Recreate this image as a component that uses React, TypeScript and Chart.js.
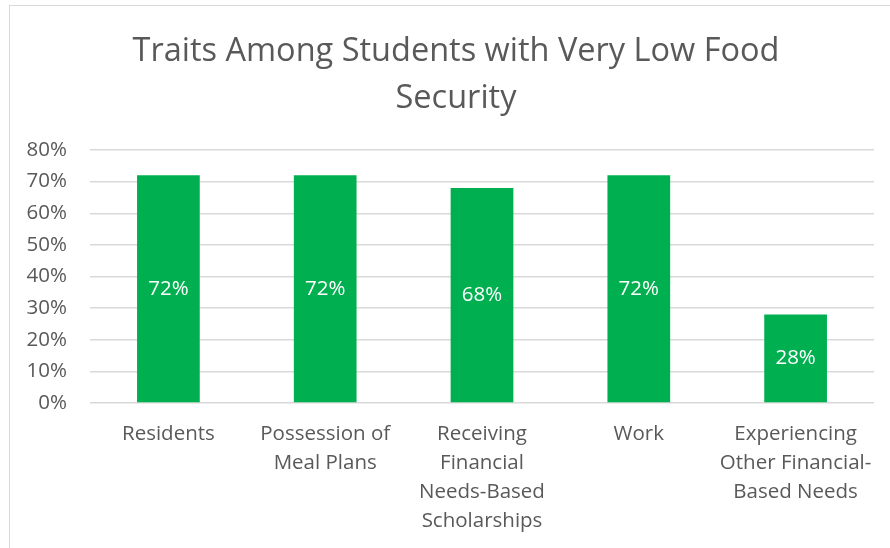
import React, { useEffect, useRef } from "react";
import { Chart, registerables } from "chart.js";

Chart.register(...registerables);

const categories: string[][] = [
  ["Residents"],
  ["Possession of", "Meal Plans"],
  ["Receiving", "Financial", "Needs-Based", "Scholarships"],
  ["Work"],
  ["Experiencing", "Other Financial-", "Based Needs"],
];
const values: number[] = [72, 72, 68, 72, 28];
const titleLines: string[] = ["Traits Among Students with Very Low Food", "Security"];
const yMin = 0;
const yMax = 80;
const yStep = 10;

const FONT = "'Open Sans', sans-serif";
const TEXT = "#595959";

const framePlugin = {
  id: "frame",
  beforeDraw(chart: any) {
    const ctx = chart.ctx;
    ctx.save();
    ctx.fillStyle = "#ffffff";
    ctx.fillRect(0, 0, chart.width, chart.height);
    ctx.strokeStyle = "#d9d9d9";
    ctx.lineWidth = 1;
    ctx.strokeRect(9.5, 5.5, chart.width + 20, chart.height + 20);
    ctx.fillStyle = TEXT;
    ctx.font = `32.5px ${FONT}`;
    ctx.textAlign = "center";
    ctx.textBaseline = "alphabetic";
    const cx = (chart.chartArea.left + chart.chartArea.right) / 2 - 26;
    titleLines.forEach((t, i) => ctx.fillText(t, cx, 61 + i * 47));
    ctx.restore();
  },
  afterDatasetsDraw(chart: any) {
    const ctx = chart.ctx;
    const meta = chart.getDatasetMeta(0);
    ctx.save();
    ctx.fillStyle = "#ffffff";
    ctx.font = `20.5px ${FONT}`;
    ctx.textAlign = "center";
    ctx.textBaseline = "middle";
    meta.data.forEach((bar: any, i: number) => {
      const y = (bar.y + bar.base) / 2;
      ctx.fillText(values[i] + "%", bar.x, y);
    });
    ctx.restore();
  },
};

export default function App() {
  const ref = useRef<HTMLCanvasElement>(null);
  useEffect(() => {
    document.body.style.margin = "0";
    const chart = new Chart(ref.current!, {
      type: "bar",
      data: {
        labels: categories,
        datasets: [
          {
            data: values,
            backgroundColor: "#00B050",
            borderWidth: 0,
            barPercentage: 0.8,
            categoryPercentage: 0.5,
          },
        ],
      },
      plugins: [framePlugin],
      options: {
        animation: false,
        responsive: false,
        devicePixelRatio: 1,
        layout: { padding: { left: 10, right: 16, top: 150, bottom: 0 } },
        plugins: { legend: { display: false }, tooltip: { enabled: false }, title: { display: false } },
        scales: {
          x: {
            grid: { display: false, drawTicks: false },
            border: { display: false },
            ticks: {
              color: TEXT,
              font: { family: FONT, size: 20.5, lineHeight: 1.415 },
              padding: 16.5,
              maxRotation: 0,
              autoSkip: false,
            },
            afterFit(scale: any) {
              scale.height = 145;
            },
          },
          y: {
            min: yMin,
            max: yMax,
            grid: { color: "#d9d9d9", lineWidth: 1.5, drawTicks: false },
            border: { display: false },
            ticks: {
              stepSize: yStep,
              color: TEXT,
              font: { family: FONT, size: 20.5 },
              padding: 23,
              callback: (v: any) => v + "%",
            },
            afterFit(scale: any) {
              scale.width = 80;
            },
          },
        },
      },
    } as any);
    return () => chart.destroy();
  }, []);
  return <canvas ref={ref} width={890} height={548} style={{ display: "block" }} />;
}
